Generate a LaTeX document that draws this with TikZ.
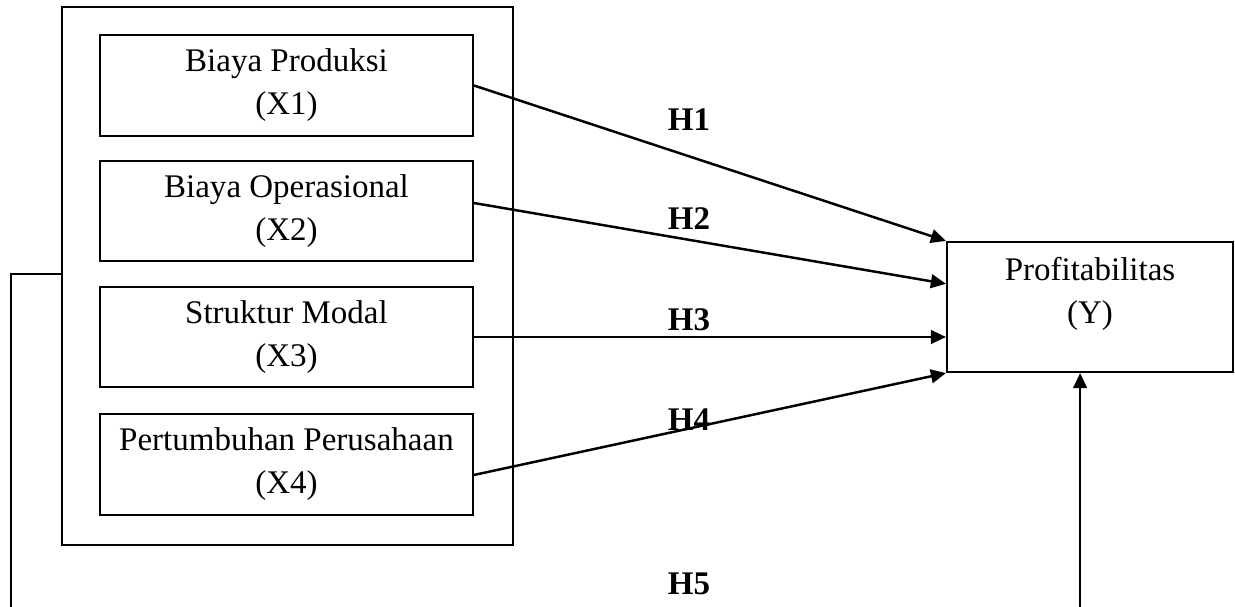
\documentclass[tikz,border=0pt]{standalone}
\usepackage{fontspec}
\setmainfont{Liberation Serif}
\usepackage{tikz}
\usetikzlibrary{arrows.meta}
\tikzset{
    every node/.style={font=\fontsize{12}{15.6}\selectfont, align=center}
}
\tikzset{
    varbox/.style={draw, line width=0.75pt, minimum width=135.6pt,
    	minimum height=36.4pt, inner sep=0pt}
}
\tikzset{
    hyp/.style={font=\bfseries\fontsize{12}{14}\selectfont}
}
\tikzset{
    link/.style={-{Triangle[length=5.5pt,width=5pt]}, line width=0.9pt}
}

\begin{document}
\begin{tikzpicture}[x=0.3636pt, y=-0.3636pt]
	\path[use as bounding box, clip] (0,0) rectangle (1235,607);
	\node (grp) [varbox, minimum width=164pt, minimum height=195.6pt] at (287.5, 276) {};
	\node (x1) [varbox] at (286.5,  85.5) {Biaya Produksi\\(X1)};
	\node (x2) [varbox] at (286.5, 211.0) {Biaya Operasional\\(X2)};
	\node (x3) [varbox] at (286.5, 337.0) {Struktur Modal\\(X3)};
	\node (x4) [varbox] at (286.5, 464.5) {Pertumbuhan Perusahaan\\(X4)};
	\node (y) [varbox, minimum width=104pt, minimum height=47.3pt,
		label={[anchor=north, yshift=-2.4pt]north:Profitabilitas\\(Y)}] at (1090, 307) {};
	
	\node (h1) [hyp] at (689, 120) {H1};
	\node (h2) [hyp] at (689, 219) {H2};
	\node (h3) [hyp] at (689, 320) {H3};
	\node (h4) [hyp] at (689, 420) {H4};
	\node (h5) [hyp] at (689, 584) {H5};
	
	\coordinate (fbl) at (11, 274);
	\coordinate (fbb) at (11, 640);
	
	\draw[link] (x1.east) -- (y.north west);
	\draw[link] ([yshift=2.9pt]x2.east) -- ([yshift=-15.6pt]y.north west);
	\draw[link] (x3.east) -- (x3.east -| y.west);
	\draw[link] ([yshift=-3.8pt]x4.east) -- (y.south west);
	\draw[link] (fbl -| grp.west) -- (fbl) -- (fbb) -| ([xshift=-3.6pt]y.south);
\end{tikzpicture}
\end{document}
